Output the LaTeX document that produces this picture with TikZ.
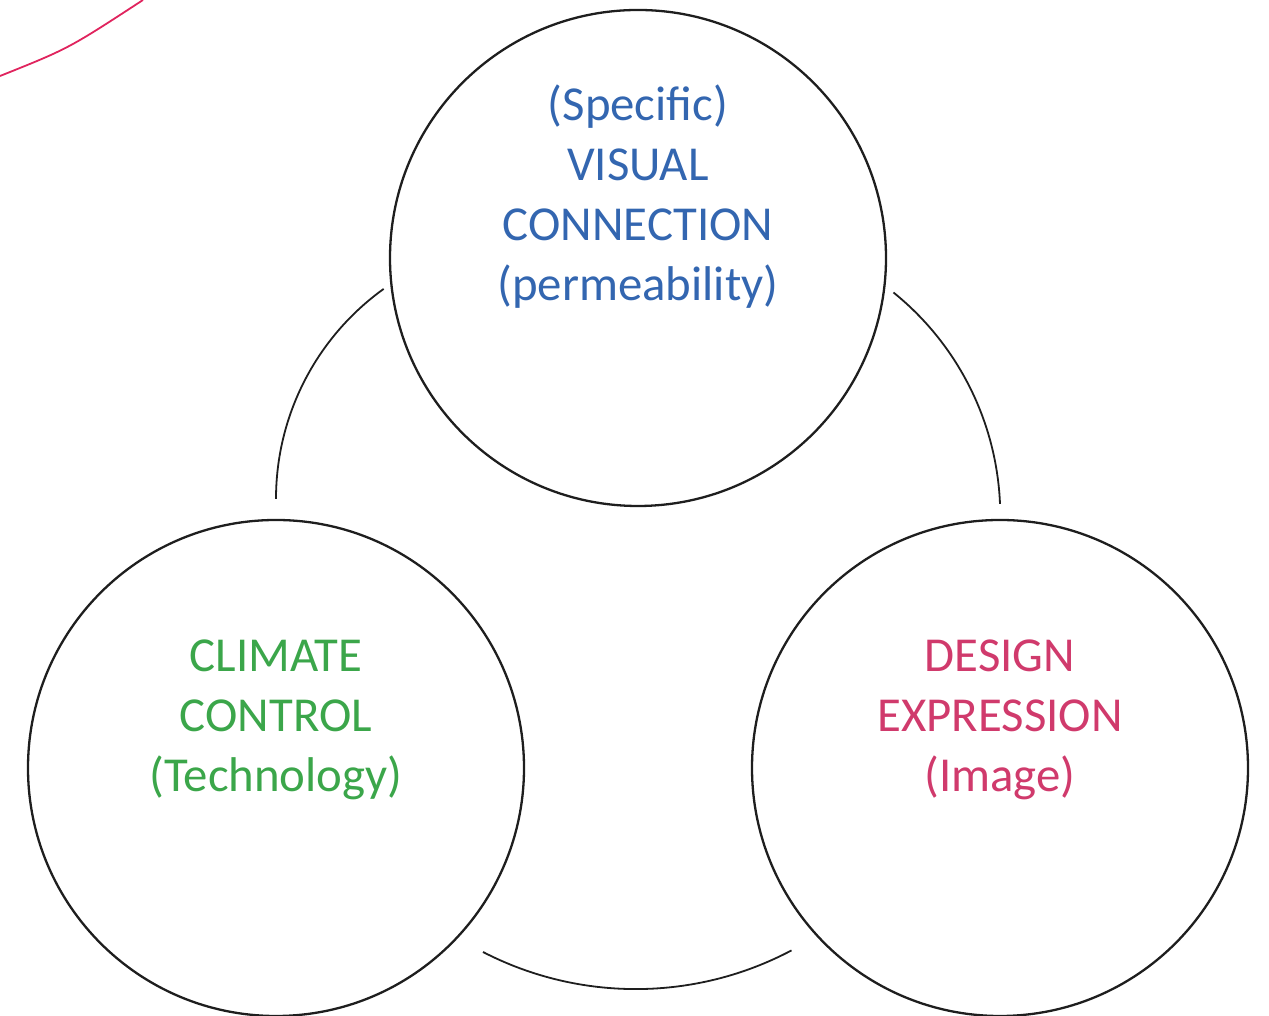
\documentclass[tikz,border=0pt]{standalone}
\definecolor{visualblue}{RGB}{51,102,176}
\definecolor{climategreen}{RGB}{59,166,74}
\definecolor{designpink}{RGB}{208,58,108}
\definecolor{edgepink}{RGB}{224,36,94}
\definecolor{ringblack}{RGB}{30,30,30}
\usepackage{fontspec}
\setmainfont{Carlito}
\usepackage{tikz}
\usetikzlibrary{positioning,calc}

\begin{document}
\begin{tikzpicture}[x=1pt, y=1pt,
        ring/.style={circle, draw=ringblack, line width=2.3pt, minimum size=496pt, inner sep=0pt},
        ringtext/.style={align=center, anchor=base, inner sep=0pt,
                         font=\fontsize{48.8}{60}\selectfont},
        link/.style={draw=ringblack, line width=1.8pt}]
    \useasboundingbox (0,0) rectangle (1269,1016);

    % the three circles
    \node[ring] (visual)  at (638,758) {};
    \node[ring] (climate) at (276,248) {};
    \node[ring] (design)  at (1000,248) {};

    % texts (base = baseline of the last line)
    \node[ringtext, text=visualblue] (visualtext) at ([yshift=-43pt]visual.center)
        {(Specific)\\VISUAL\\CONNECTION\\(permeability)};
    \node[ringtext, text=climategreen] (climatetext) at ([yshift=-24pt]climate.center)
        {CLIMATE\\CONTROL\\(Technology)};
    \node[ringtext, text=designpink] (designtext) at ([yshift=-24pt]design.center)
        {DESIGN\\EXPRESSION\\(Image)};

    % arcs between the circles
    \coordinate (leftfoot)  at ([yshift=20pt]climate.north);
    \coordinate (rightfoot) at ([yshift=15pt]design.north);
    \coordinate (bottomstart) at ([shift={(207pt,-184pt)}]climate.center);
    \draw[link] (leftfoot) arc[start angle=180, end angle=125.7, radius=258.5];
    \draw[link] (rightfoot) arc[start angle=2.4, end angle=51.1, radius=287];
    \draw[link] (bottomstart) arc[start angle=242.7, end angle=297.9, radius=333];

    % corner arc
    \coordinate (cornerA) at (0,940);
    \coordinate (cornerB) at (143,1016);
    \draw[draw=edgepink, line width=1.8pt] (cornerA) .. controls (68.6,967.4) .. (cornerB);
\end{tikzpicture}
\end{document}
